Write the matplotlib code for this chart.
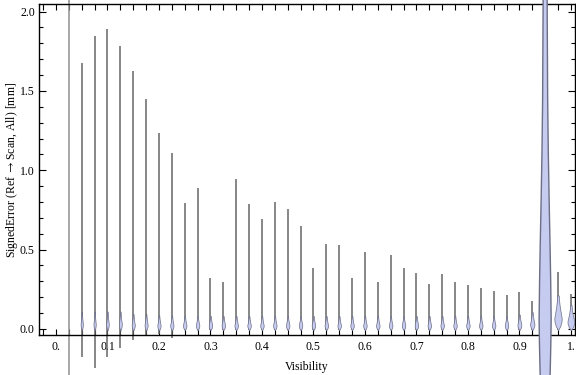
import numpy as np
import matplotlib.pyplot as plt
from matplotlib.ticker import MultipleLocator

plt.rcParams['font.family'] = ['Liberation Serif', 'DejaVu Serif']
plt.rcParams['mathtext.fontset'] = 'stix'

# violin positions (visibility bins)
visibility = [0.025, 0.05, 0.075, 0.1, 0.125, 0.15, 0.175, 0.2, 0.225, 0.25,
              0.275, 0.3, 0.325, 0.35, 0.375, 0.4, 0.425, 0.45, 0.475, 0.5,
              0.525, 0.55, 0.575, 0.6, 0.625, 0.65, 0.675, 0.7, 0.725, 0.75,
              0.775, 0.8, 0.825, 0.85, 0.875, 0.9, 0.925, 0.95, 0.975, 1.0]

# max / min of signed error per bin [mm]
err_max = [2.40, 1.678, 1.846, 1.892, 1.785, 1.628, 1.449, 1.237, 1.107, 0.792,
           0.886, 0.319, 0.296, 0.943, 0.786, 0.693, 0.800, 0.756, 0.651, 0.382,
           0.534, 0.531, 0.323, 0.487, 0.294, 0.468, 0.382, 0.351, 0.284, 0.345,
           0.294, 0.277, 0.258, 0.239, 0.214, 0.233, 0.178, 2.60, 0.361, 0.219]
err_min = [-0.40, -0.174, -0.248, -0.178, -0.118, -0.069, -0.046, -0.030, -0.059, -0.008,
           -0.008, -0.008, -0.008, -0.008, -0.008, -0.008, -0.008, -0.008, -0.008, -0.008,
           -0.008, -0.008, -0.008, -0.008, -0.008, -0.008, -0.008, -0.008, -0.008, -0.008,
           -0.008, -0.008, -0.008, -0.008, -0.008, -0.008, -0.008, -0.40, -0.008, -0.008]

# mode of each distribution and its half width (in visibility units)
mode = [0.03, 0.03, 0.03, 0.03, 0.03, 0.025, 0.025, 0.022, 0.022, 0.022,
        0.022, 0.022, 0.022, 0.022, 0.022, 0.022, 0.022, 0.022, 0.022, 0.022,
        0.022, 0.022, 0.022, 0.022, 0.022, 0.022, 0.022, 0.022, 0.022, 0.022,
        0.022, 0.022, 0.022, 0.022, 0.022, 0.025, 0.03, 0.06, 0.065, 0.045]
mode_width = [0.0, 0.0022, 0.0022, 0.0025, 0.0028, 0.003, 0.003, 0.0032, 0.0032, 0.0034,
              0.0034, 0.0034, 0.0034, 0.0034, 0.0034, 0.0034, 0.0034, 0.0034, 0.0034, 0.0034,
              0.0034, 0.0034, 0.0034, 0.0034, 0.0034, 0.0034, 0.0034, 0.0034, 0.0034, 0.0034,
              0.0034, 0.0034, 0.0034, 0.0034, 0.0034, 0.0038, 0.0042, 0.0, 0.0072, 0.0066]

# outline of the wide bin at 0.95
wide_level = [-0.40, -0.29, -0.10, 0.06, 0.30, 0.50, 0.81, 1.10, 1.44, 2.07, 2.60]
wide_half = [0.0090, 0.0097, 0.0110, 0.0117, 0.0108, 0.0097, 0.0078, 0.0062, 0.0049, 0.0039, 0.0035]

xtick_pos = [0.0, 0.1, 0.2, 0.3, 0.4, 0.5, 0.6, 0.7, 0.8, 0.9, 1.0]
xtick_lab = ['0.', '0.1', '0.2', '0.3', '0.4', '0.5', '0.6', '0.7', '0.8', '0.9', '1.']
ytick_pos = [0.0, 0.5, 1.0, 1.5, 2.0]
ytick_lab = ['0.0', '0.5', '1.0', '1.5', '2.0']

fill_c = '#c6cbf0'
edge_c = '#6c6e86'

fig = plt.figure(figsize=(5.76, 3.75), dpi=100)
ax = fig.add_axes([39 / 576, 1 - 335 / 375, 536 / 576, 330.7 / 375])

# teardrop template: fraction of height / fraction of width
drop_fy = np.array([0.0, 0.12, 0.25, 0.35, 0.5, 0.7, 0.85, 1.0])
drop_fw = np.array([0.0, 0.6, 0.95, 1.0, 0.75, 0.45, 0.3, 0.2])

for x, hi, lo, m, w in zip(visibility, err_max, err_min, mode, mode_width):
    if x == 0.95:
        lv = np.array(wide_level)
        hw = np.array(wide_half)
        ax.fill_betweenx(lv, x - hw, x + hw, facecolor=fill_c, edgecolor=edge_c,
                         lw=1.0, clip_on=False, zorder=3)
        continue
    col = '#909090' if w == 0 else '#666666'
    ax.plot([x, x], [lo, hi], color=col, lw=1.1, solid_capstyle='butt',
            clip_on=False, zorder=2)
    if w > 0:
        base = max(lo, -0.01)
        top = m + 2.0 * (m - base)
        ys = base + drop_fy * (top - base)
        ws = drop_fw * w
        ax.fill_betweenx(ys, x - ws, x + ws, facecolor=fill_c, edgecolor=edge_c,
                         lw=0.5, clip_on=False, zorder=3)

ax.set_xlim(-0.033, 1.008)
ax.set_ylim(-0.038, 2.046)

ax.set_xticks(xtick_pos)
ax.set_xticklabels(xtick_lab)
ax.xaxis.set_minor_locator(MultipleLocator(0.025))
ax.set_yticks(ytick_pos)
ax.set_yticklabels(ytick_lab)
ax.yaxis.set_minor_locator(MultipleLocator(0.1))

ax.tick_params(which='both', direction='in', top=True, right=True,
               width=0.8, colors='black', labelsize=8.5)
ax.tick_params(axis='x', which='both', length=4, pad=4)
ax.tick_params(axis='y', which='major', length=5, pad=3)
ax.tick_params(axis='y', which='minor', length=3)
for s in ax.spines.values():
    s.set_linewidth(1.0)

ax.set_xlabel('Visibility', fontsize=8.5)
ax.xaxis.set_label_coords(0.5, -0.078)
ax.set_ylabel(r'SignedError (Ref ${\rightarrow}$Scan, All) [mm]', fontsize=8.5)
ax.yaxis.set_label_coords(-0.036, 0.5)

fig.savefig('out.png', dpi=100)
